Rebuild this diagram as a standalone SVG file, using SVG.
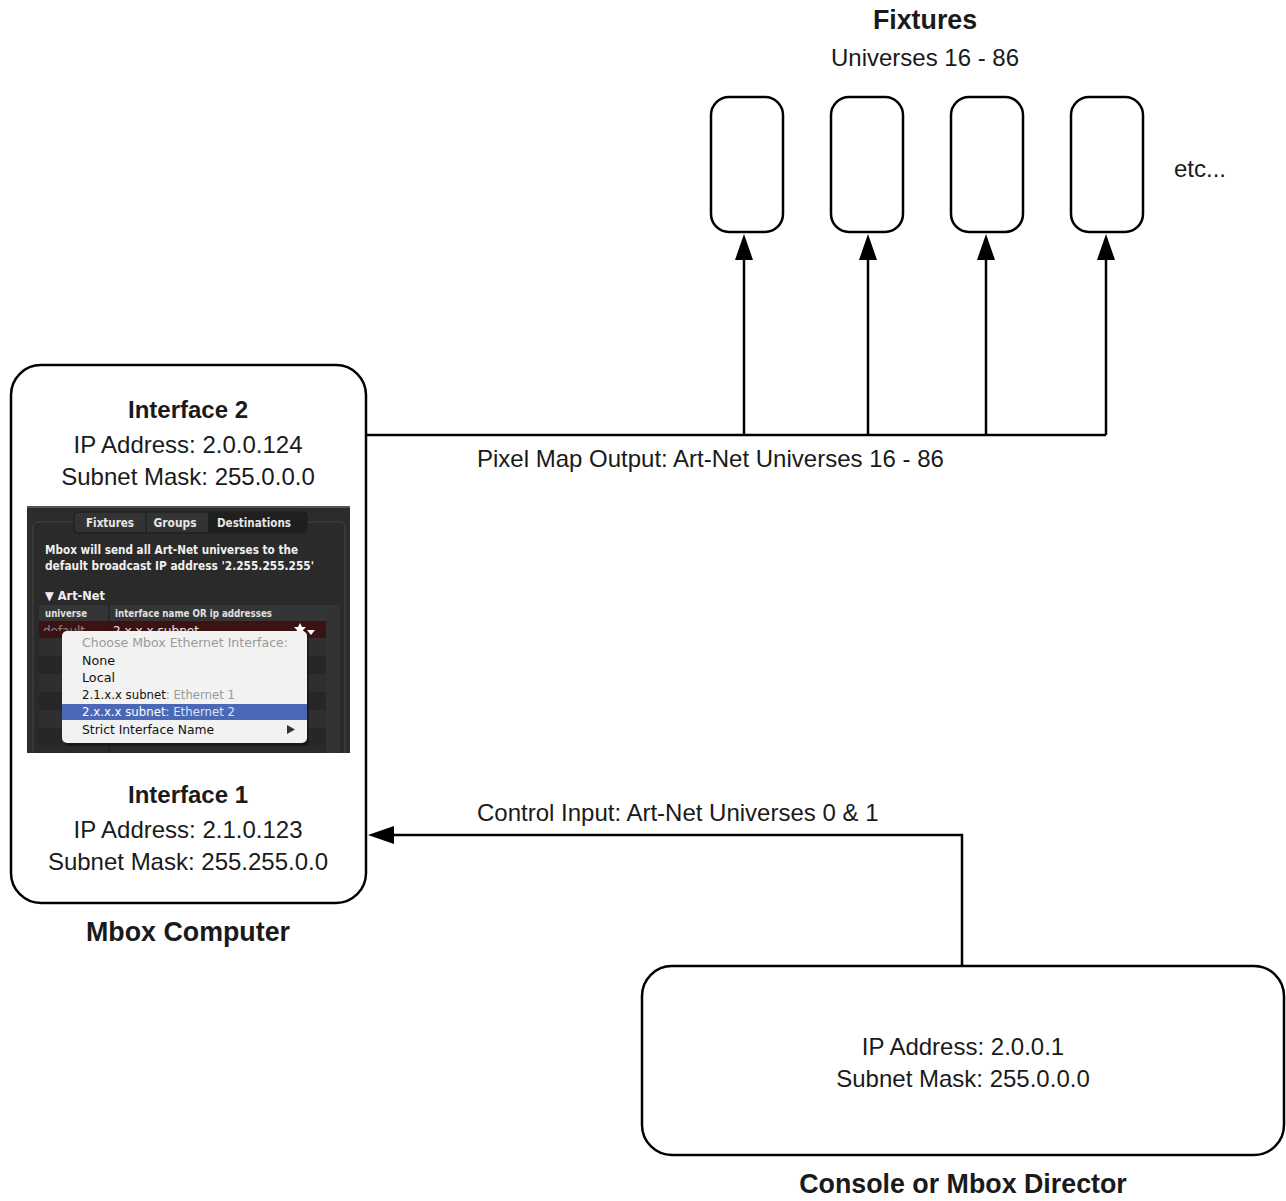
<svg xmlns="http://www.w3.org/2000/svg" width="1286" height="1201" viewBox="0 0 1286 1201">
<style>
.box{fill:#fff;stroke:#000;stroke-width:2.5}
.t{font-family:"Liberation Sans",Arial,sans-serif;fill:#1a1a1a}
.r{font-size:24px}
.b{font-size:24px;font-weight:bold}
.h{font-size:26.8px;font-weight:bold}
.c{text-anchor:middle}
.ln{fill:none;stroke:#000;stroke-width:2.5}
.ui{font-family:"DejaVu Sans","Liberation Sans",sans-serif}
</style>
<defs>
<clipPath id="shot"><rect x="27" y="506" width="323" height="247"/></clipPath>
<clipPath id="rowclip"><rect x="39" y="621" width="287" height="10"/></clipPath>
</defs>
<rect width="1286" height="1201" fill="#fff"/>

<g id="connectors">
<path class="ln" d="M366,435 H1106"/>
<path class="ln" d="M744,435 V260"/>
<path class="ln" d="M868,435 V260"/>
<path class="ln" d="M986,435 V260"/>
<path class="ln" d="M1106,435 V260"/>
<path d="M744,234 L735,260 L753,260 Z"/>
<path d="M868,234 L859,260 L877,260 Z"/>
<path d="M986,234 L977,260 L995,260 Z"/>
<path d="M1106,234 L1097,260 L1115,260 Z"/>
<path class="ln" d="M962,966 V835 H394"/>
<path d="M368,835 L394,826 L394,844 Z"/>
<text class="t r" x="477" y="467">Pixel Map Output: Art-Net Universes 16 - 86</text>
<text class="t r" x="477" y="821">Control Input: Art-Net Universes 0 &amp; 1</text>
</g>

<g id="fixtures-label">
<text class="t h c" x="925" y="29">Fixtures</text>
<text class="t r c" x="925" y="66">Universes 16 - 86</text>
<text class="t r" x="1174" y="177">etc...</text>
</g>
<g id="fixture1"><rect class="box" x="711" y="97" width="72" height="135" rx="18"/></g>
<g id="fixture2"><rect class="box" x="831" y="97" width="72" height="135" rx="18"/></g>
<g id="fixture3"><rect class="box" x="951" y="97" width="72" height="135" rx="18"/></g>
<g id="fixture4"><rect class="box" x="1071" y="97" width="72" height="135" rx="18"/></g>

<g id="mbox-computer">
<rect class="box" x="11" y="365" width="355" height="538" rx="30"/>
<text class="t b c" x="188" y="418">Interface 2</text>
<text class="t r c" x="188" y="453">IP Address: 2.0.0.124</text>
<text class="t r c" x="188" y="485">Subnet Mask: 255.0.0.0</text>
<text class="t b c" x="188" y="803">Interface 1</text>
<text class="t r c" x="188" y="838">IP Address: 2.1.0.123</text>
<text class="t r c" x="188" y="870">Subnet Mask: 255.255.0.0</text>
<text class="t h c" x="188" y="941">Mbox Computer</text>

<g id="screenshot" clip-path="url(#shot)">
<rect x="27" y="506" width="323" height="247" fill="#2c2c2c"/>
<rect x="27" y="506" width="323" height="2" fill="#555"/>
<rect x="33" y="522" width="312" height="260" rx="5" fill="#2a2a2a" stroke="#454545" stroke-width="1"/>
<rect x="74" y="512" width="233" height="21" rx="4" fill="#333" stroke="#1b1b1b" stroke-width="1"/>
<path d="M208,512.5 H303 a4,4 0 0 1 4,4 V528.5 a4,4 0 0 1 -4,4 H208 Z" fill="#1f1f1f"/>
<line x1="146" y1="513" x2="146" y2="532" stroke="#1b1b1b"/>
<text class="ui" x="110" y="526.5" font-size="11.5" font-weight="bold" fill="#e6e6e6" text-anchor="middle" textLength="48" lengthAdjust="spacingAndGlyphs">Fixtures</text>
<text class="ui" x="175" y="526.5" font-size="11.5" font-weight="bold" fill="#e6e6e6" text-anchor="middle" textLength="43" lengthAdjust="spacingAndGlyphs">Groups</text>
<text class="ui" x="254" y="526.5" font-size="11.5" font-weight="bold" fill="#e6e6e6" text-anchor="middle" textLength="74" lengthAdjust="spacingAndGlyphs">Destinations</text>
<text class="ui" x="45" y="554" font-size="12" font-weight="bold" fill="#f0f0f0" textLength="253" lengthAdjust="spacingAndGlyphs">Mbox will send all Art-Net universes to the</text>
<text class="ui" x="45" y="570" font-size="12" font-weight="bold" fill="#f0f0f0" textLength="269" lengthAdjust="spacingAndGlyphs">default broadcast IP address  '2.255.255.255'</text>
<text class="ui" x="45" y="600" font-size="12" font-weight="bold" fill="#f0f0f0" textLength="60" lengthAdjust="spacingAndGlyphs">▼ Art-Net</text>
<rect x="39" y="605" width="301" height="16" fill="#353535"/>
<rect x="326" y="605" width="14" height="148" fill="#333"/>
<rect x="39" y="621" width="287" height="17" fill="#3d1212"/>
<rect x="39" y="638" width="287" height="18" fill="#2f2f2f"/>
<rect x="39" y="656" width="287" height="18" fill="#272727"/>
<rect x="39" y="674" width="287" height="18" fill="#2f2f2f"/>
<rect x="39" y="692" width="287" height="18" fill="#272727"/>
<rect x="39" y="710" width="287" height="18" fill="#2f2f2f"/>
<rect x="39" y="728" width="287" height="18" fill="#272727"/>
<line x1="109" y1="605" x2="109" y2="753" stroke="#1c1c1c"/>
<text class="ui" x="45" y="617" font-size="10.5" font-weight="bold" fill="#e0e0e0" textLength="42" lengthAdjust="spacingAndGlyphs">universe</text>
<text class="ui" x="115" y="617" font-size="10.5" font-weight="bold" fill="#e0e0e0" textLength="157" lengthAdjust="spacingAndGlyphs">interface name OR ip addresses</text>
<g clip-path="url(#rowclip)">
<text class="ui" x="43" y="635" font-size="12" fill="#8a8a8a" textLength="42" lengthAdjust="spacingAndGlyphs">default</text>
<text class="ui" x="113" y="635" font-size="12" fill="#e8e8e8" textLength="86" lengthAdjust="spacingAndGlyphs">2.x.x.x subnet</text>
</g>
<polygon points="300,623 302,627 306,627 303,630 304,634 300,632 296,634 297,630 294,627 298,627" fill="#fff"/>
<polygon points="307,630 315,630 311,635" fill="#fff"/>
<rect x="64" y="634" width="245" height="112" rx="5" fill="#000" opacity="0.35"/>
<rect x="62" y="631" width="245" height="112" rx="5" fill="#f2f2f2"/>
<rect x="62" y="704" width="245" height="16" fill="#4b68b6"/>
<text class="ui" x="82" y="647" font-size="12.5" fill="#9a9a9a" textLength="206" lengthAdjust="spacingAndGlyphs">Choose Mbox Ethernet Interface:</text>
<text class="ui" x="82" y="665" font-size="12.5" fill="#111" textLength="33" lengthAdjust="spacingAndGlyphs">None</text>
<text class="ui" x="82" y="682" font-size="12.5" fill="#111" textLength="33" lengthAdjust="spacingAndGlyphs">Local</text>
<text class="ui" x="82" y="699" font-size="12.5" fill="#111" textLength="153" lengthAdjust="spacingAndGlyphs">2.1.x.x subnet<tspan fill="#9a9a9a">: Ethernet 1</tspan></text>
<text class="ui" x="82" y="716" font-size="12.5" fill="#fff" textLength="153" lengthAdjust="spacingAndGlyphs">2.x.x.x subnet<tspan fill="#dde3f3">: Ethernet 2</tspan></text>
<text class="ui" x="82" y="734" font-size="12.5" fill="#111" textLength="132" lengthAdjust="spacingAndGlyphs">Strict Interface Name</text>
<polygon points="287,725 295,729.5 287,734" fill="#333"/>
</g>
</g>

<g id="console">
<rect class="box" x="642" y="966" width="642" height="189" rx="30"/>
<text class="t r c" x="963" y="1055">IP Address: 2.0.0.1</text>
<text class="t r c" x="963" y="1087">Subnet Mask: 255.0.0.0</text>
<text class="t h c" x="963" y="1193">Console or Mbox Director</text>
</g>
</svg>
